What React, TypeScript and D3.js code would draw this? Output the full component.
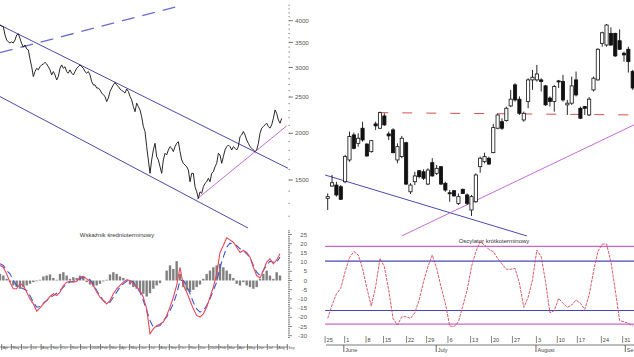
import React from 'react';
import * as d3 from 'd3';

// ---------- DATA ----------
const leftClose = [3895,3870,3853,3663,3551,3510,3488,3510,3488,3551,3663,3690,3585,3474,3399,3444,3362,3341,3160,3013,2836,2925,2984,2955,3013,3047,3064,3095,3064,3013,2955,2865,2925,2865,2778,2836,2984,3047,2984,3013,2925,2896,2955,2896,2865,2925,2984,3013,3047,3013,2984,2925,2896,2925,2865,2750,2694,2694,2643,2643,2612,2562,2533,2510,2431,2485,2587,2643,2694,2733,2694,2668,2627,2602,2587,2562,2627,2587,2510,2456,2357,2284,2407,2357,2309,2214,2085,2022,1842,1697,1563,1697,1805,1880,1732,1697,1628,1563,1697,1768,1750,1805,1842,1824,1787,1842,1880,1899,1787,1697,1662,1645,1628,1595,1484,1563,1563,1439,1395,1340,1395,1381,1439,1469,1484,1516,1484,1563,1579,1628,1662,1768,1750,1662,1732,1805,1842,1861,1842,1805,1842,1824,1805,1842,1960,1980,2022,1980,1919,1880,1842,1824,1805,1787,1805,1880,2000,2064,2085,2106,2128,2085,2064,2106,2192,2309,2261,2171,2128,2192];

const oscRed = [8.2,7.2,3.6,-0.9,-4.5,-4.5,-1.8,-2.7,-6.3,-10,-12.7,-16.7,-14.9,-12.7,-10.9,-8.7,-7.2,-8.2,-6.3,-2.7,-0.9,-0.4,-0.9,-0.5,1.8,2.2,0.9,-0.4,-2.7,-6.3,-9.1,-10.9,-12.7,-10.9,-7.2,-4.5,-2.7,-0.9,0.4,0,-1.8,-3.6,-5.4,-9.1,-15.4,-29,-26.3,-24.5,-23.6,-22.6,-19,-14.5,-9.1,-2.7,7.2,-2.7,-6.3,-10.9,-15.4,-19,-19.9,-18.1,-14.5,-9.1,-3.6,3.6,15.2,19,23.2,22.1,20.8,18.1,15.2,16.3,15.2,12.7,7.2,2.7,1.4,5.4,10,11.8,9.1,11.2,14.5];
const oscBlue = [9.1,8.2,5.4,3.6,0,-2.7,-3.6,-4.5,-5.4,-8.2,-11.8,-14.5,-14.1,-12.3,-10.9,-9.4,-8.2,-6.9,-5.4,-3.6,-1.8,-0.9,-0.4,0,0.9,1.8,1.4,0.4,-1.8,-5.4,-8.2,-10.9,-12.3,-11.8,-9.1,-6.3,-3.6,-1.8,-0.4,0.4,-0.9,-3.6,-6.3,-10.9,-16.3,-21.7,-25.4,-25,-24.5,-21.7,-19.9,-16.3,-12.7,-7.2,0,0,-2.7,-7.2,-11.8,-15.4,-17.2,-16.3,-13.6,-9.9,-5.4,-0.9,7.2,12.7,18.1,20.3,19.9,19,17.2,16.3,14.5,12.7,8.2,4.5,2.7,5.4,8.2,10.5,9.9,9.9,12.7];
const oscHist = [3.6,2.7,0.9,-0.9,-2.7,-3.6,-4.5,-3.6,-2.7,-1.8,-0.9,-0.4,0.4,2.2,2.7,3.3,1.4,0.4,3.6,4.5,2.7,0.9,1.8,1.4,2.7,1.8,-0.9,-2.2,-3.3,-2.7,-1.8,-0.5,0.4,3.3,4.5,3.6,2.2,1.4,0.4,-2.2,-3.6,-4.5,-5.4,-7.2,-8.7,-6.9,-4.5,-2.7,-1.4,0,5.4,8.2,6.3,10.5,3.6,-3.6,-5.4,-6.3,-5.1,-3.6,-2.2,0.9,3.6,5.4,7.2,8.2,9.1,7.2,5.4,3.6,1.4,-1.8,-2.7,-0.9,-2.7,-3.6,-4.5,-3.6,0.9,3.6,5.4,2.7,0.9,4.5,2.7];

const candleOpen  = [1340,1445,1454,1439,1484,1697,1980,1880,2063,1872,1786,2119,2063,2225,1992,2042,1697,1732,1887,1395,1484,1588,1578,1463,1669,1563,1628,1470,1387,1404,1299,1416,1368,1247,1312,1628,1679,1715,1775,2063,2148,2162,2367,2694,2467,2171,2431,2778,2778,2778,2678,2485,2431,2761,2750,2382,2407,2778,2333,2357,2239,2612,2778,3480,3444,3700,3700,3536,3274,3355,2924];
const candleHigh  = [1381,1547,1484,1454,1750,2021,2008,2000,2148,1880,1919,2148,2285,2262,2021,2063,1880,1968,1899,1470,1578,1595,1602,1612,1715,1645,1635,1484,1410,1410,1381,1424,1381,1368,1563,1732,1775,1732,2119,2262,2194,2357,2612,2722,2510,2285,2807,2955,3047,2807,2694,2510,2694,2778,2865,2456,2836,2925,2357,2367,2500,2836,3376,3738,3919,3840,3714,3793,3306,3408,2955];
const candleLow   = [1247,1439,1354,1326,1470,1679,1812,1842,1899,1732,1775,2042,2051,2093,1919,1768,1662,1715,1454,1376,1454,1516,1500,1454,1531,1547,1454,1395,1312,1354,1286,1376,1286,1202,1304,1569,1662,1645,1768,2051,2042,2148,2349,2431,2239,2148,2333,2612,2750,2587,2367,2357,2285,2643,2431,2239,2382,2510,2184,2239,2225,2587,2766,3408,3408,3423,3200,3341,3109,2906,2612];
const candleClose = [1354,1475,1368,1332,1732,1960,1823,1940,1919,1739,1911,2093,2271,2106,1968,1775,1842,1940,1463,1454,1538,1531,1516,1595,1538,1612,1463,1410,1378,1360,1354,1381,1299,1354,1547,1715,1732,1655,2071,2239,2063,2333,2467,2456,2262,2262,2778,2824,2882,2750,2382,2431,2668,2744,2456,2407,2678,2533,2194,2333,2467,2807,3355,3714,3895,3444,3220,3355,3240,3109,2643];

const shortOsc = [-20.6,-13.3,-7.3,-4.3,4.8,12.4,15.7,13.9,6.6,-4.3,-13.9,-3.4,12,7.5,-5.2,-20.6,-24.2,-19.7,-19.7,-20.6,-17.5,-10.6,-0.6,7.5,13.9,6.6,-3.4,-12.4,-24.7,-25.1,-22.4,-13.9,-5.2,7.5,15.7,21.1,19.3,16.9,15.7,12,9,6.1,6.1,6.6,-1.5,-14.6,-9.1,0.3,16.6,13,-0.6,-17.5,-16.4,-9.7,-12.4,-14.6,-13.3,-10.6,-12.4,-15.7,-7.9,4.8,15.7,19.8,19.8,10.2,-5.2,-21.8,-22.4,-23.3,-24.7];
const shortOscLevels = [18.5, 10.5, -16.3, -23.7];
const shortOscLevelColors = ['#cc66cc', '#4646bb', '#4646bb', '#cc66cc'];

const priceTicks = [4000, 3500, 3000, 2500, 2000, 1500];
const oscTicks = [25, 20, 15, 10, 5, 0, -5, -10, -15, -20, -25, -30];

const dayLabels = ['25','1','8','15','22','29','6','13','20','27','3','10','17','24','31'];
const dayTickIdx = [-0.6,3.9,8.8,12.8,18.1,22.7,27.6,32.8,37.6,42.4,47.9,52.7,57.3,62.8,67.7];
const monthLabels = ['June','July','August','Se'];
const monthTickIdx = [3.7,24.9,47.8,68.3];

// trend lines: [index, value]
const channelUpper = [[0, 3895], [172.8, 1612]];
const channelLower = [[0, 2507], [148.8, 1116]];
const dashedTrend = [[0, 3286], [106, 4361]];
const pinkTrendLeft = [[118, 1332], [172, 2093]];
const blueTrendRight = [[-0.6, 1547], [45.7, 1063]];
const pinkTrendRight = [[17, 1063], [70.3, 2106]];
const resistRight = [[11.6, 2271], [70.3, 2239]];

const leftStart = new Date(2007, 3, 1);
const leftEnd = new Date(2009, 8, 1);

const FONT = '"Liberation Sans", Arial, sans-serif';

export default function App() {
  const yPrice = d3.scaleLog().domain([1500, 4000]).range([180, 20.7]);
  const xLeft = d3.scaleLinear().domain([0, leftClose.length - 1]).range([0, 281.7]);
  const xRight = d3.scaleLinear().domain([0, candleOpen.length - 1]).range([327.7, 632.7]);
  const yOsc = d3.scaleLinear().domain([-30, 25]).range([335.7, 234.5]);
  const xOscL = d3.scaleLinear().domain([0, oscRed.length - 1]).range([0, 280]);
  const xTime = d3.scaleTime().domain([leftStart, leftEnd]).range([1.7, 287.3]);

  const priceLine = d3.line<number>().x((_, i) => xLeft(i)).y(d => yPrice(d));
  const oscLine = (arr: number[]) => d3.line<number>().x((_, i) => xOscL(i)).y(d => yOsc(d))(arr) || '';
  const shortLine = d3.line<number>().x((_, i) => xRight(i)).y(d => yOsc(d));

  const seg = (pts: number[][], xs: (v: number) => number) =>
    d3.line<number[]>().x(d => xs(d[0])).y(d => yPrice(d[1]))(pts) || '';

  const minorPrice = d3.range(1200, 4500, 100);
  const minorOsc = d3.range(-31, 28, 1);
  const months = d3.timeMonth.range(leftStart, new Date(2009, 8, 2));
  const fmtMon = d3.timeFormat('%b');
  const fmtYear = d3.timeFormat('%Y');

  return (
    <svg width={634} height={357} style={{ position: 'absolute', left: 0, top: 0, background: '#fff' }}
      fontFamily={FONT}>
      <rect x={0} y={0} width={634} height={357} fill="#fff" />

      {/* ---- left top: price line and trend lines ---- */}
      <path d={seg(dashedTrend, xLeft)} stroke="#6a6ad0" strokeWidth={1.3} strokeDasharray="13 8" fill="none" />
      <path d={seg(channelUpper, xLeft)} stroke="#4a4aa8" strokeWidth={1} fill="none" />
      <path d={seg(channelLower, xLeft)} stroke="#4a4aa8" strokeWidth={1} fill="none" />
      <path d={seg(pinkTrendLeft, xLeft)} stroke="#c46cd4" strokeWidth={1} fill="none" />
      <path d={priceLine(leftClose) || ''} stroke="#111" strokeWidth={0.9} fill="none" strokeLinejoin="round" />

      {/* ---- price axis ---- */}
      {minorPrice.map(v => (
        <rect key={'mp' + v} x={288.6} y={yPrice(v) - 0.5} width={1} height={1} fill="#555" />
      ))}
      {priceTicks.map(v => (
        <g key={'pt' + v}>
          <line x1={289} x2={293} y1={yPrice(v)} y2={yPrice(v)} stroke="#555" strokeWidth={0.8} />
          <text x={295} y={yPrice(v) + 2.2} fontSize={6.2} fill="#555">{v}</text>
        </g>
      ))}

      {/* ---- right top: candlesticks ---- */}
      <path d={seg(blueTrendRight, xRight)} stroke="#4a4ab0" strokeWidth={1} fill="none" />
      <path d={seg(pinkTrendRight, xRight)} stroke="#c46cd4" strokeWidth={1} fill="none" />
      <path d={seg(resistRight, xRight)} stroke="#d45050" strokeWidth={1} strokeDasharray="10 14" fill="none" />
      {candleOpen.map((o, i) => {
        const c = candleClose[i];
        const x = xRight(i);
        const up = c >= o;
        const yTop = yPrice(Math.max(o, c));
        const yBot = yPrice(Math.min(o, c));
        return (
          <g key={'c' + i}>
            <line x1={x} x2={x} y1={yPrice(candleHigh[i])} y2={yPrice(candleLow[i])} stroke="#111" strokeWidth={0.9} />
            <rect x={x - 1.6} y={yTop} width={3.2} height={Math.max(1, yBot - yTop)}
              fill={up ? '#fff' : '#111'} stroke="#111" strokeWidth={0.8} />
          </g>
        );
      })}

      {/* ---- left bottom oscillator ---- */}
      {oscHist.map((v, i) => (
        <rect key={'h' + i} x={xOscL(i) - 1.2} width={2.4}
          y={Math.min(yOsc(v), yOsc(0))} height={Math.abs(yOsc(v) - yOsc(0))} fill="#808080" />
      ))}
      <path d={oscLine(oscBlue)} stroke="#3858d0" strokeWidth={1.1} strokeDasharray="7 4" fill="none" />
      <path d={oscLine(oscRed)} stroke="#e8485a" strokeWidth={1.1} fill="none" />
      <text x={117} y={237} fontSize={6} fill="#333" textAnchor="middle">Wskaźnik średnioterminowy</text>

      {/* oscillator axis */}
      {minorOsc.map(v => (
        <line key={'mo' + v} x1={288} x2={v % 5 === 0 ? 292 : 290} y1={yOsc(v)} y2={yOsc(v)} stroke="#555" strokeWidth={0.7} />
      ))}
      {oscTicks.map(v => (
        <text key={'ot' + v} x={307} y={yOsc(v) + 2} fontSize={6} fill="#555" textAnchor="end">{v}</text>
      ))}

      {/* left time axis */}
      <line x1={0} x2={288} y1={347} y2={347} stroke="#555" strokeWidth={0.7} />
      {months.map((m, i) => (
        <g key={'m' + i}>
          <line x1={xTime(m)} x2={xTime(m)} y1={344} y2={350} stroke="#444" strokeWidth={0.7} />
          <text x={xTime(m) + 1} y={348.5} fontSize={3.6} fill="#555">{m.getMonth() === 0 ? fmtYear(m) : fmtMon(m)}</text>
        </g>
      ))}

      {/* ---- right bottom oscillator ---- */}
      {shortOscLevels.map((v, i) => (
        <line key={'lv' + i} x1={xRight(-0.6)} x2={634} y1={yOsc(v)} y2={yOsc(v)}
          stroke={shortOscLevelColors[i]} strokeWidth={1.2} />
      ))}
      <path d={shortLine(shortOsc) || ''} stroke="#d04858" strokeWidth={0.9} strokeDasharray="3 1" fill="none" />
      <text x={494} y={243} fontSize={6} fill="#333" textAnchor="middle">Oscylator krótkoterminowy</text>

      {/* right time axis */}
      <line x1={326} x2={634} y1={345} y2={345} stroke="#555" strokeWidth={0.8} />
      {dayLabels.map((d, i) => (
        <g key={'d' + i}>
          <line x1={xRight(dayTickIdx[i])} x2={xRight(dayTickIdx[i])} y1={336} y2={343} stroke="#555" strokeWidth={0.7} />
          <text x={xRight(dayTickIdx[i]) + 1.5} y={341.5} fontSize={5.5} fill="#444">{d}</text>
        </g>
      ))}
      {monthLabels.map((m, i) => (
        <g key={'ml' + i}>
          <line x1={xRight(monthTickIdx[i])} x2={xRight(monthTickIdx[i])} y1={345} y2={352} stroke="#444" strokeWidth={0.8} />
          <text x={xRight(monthTickIdx[i]) + 1.5} y={351.5} fontSize={5.5} fill="#444">{m}</text>
        </g>
      ))}
    </svg>
  );
}
